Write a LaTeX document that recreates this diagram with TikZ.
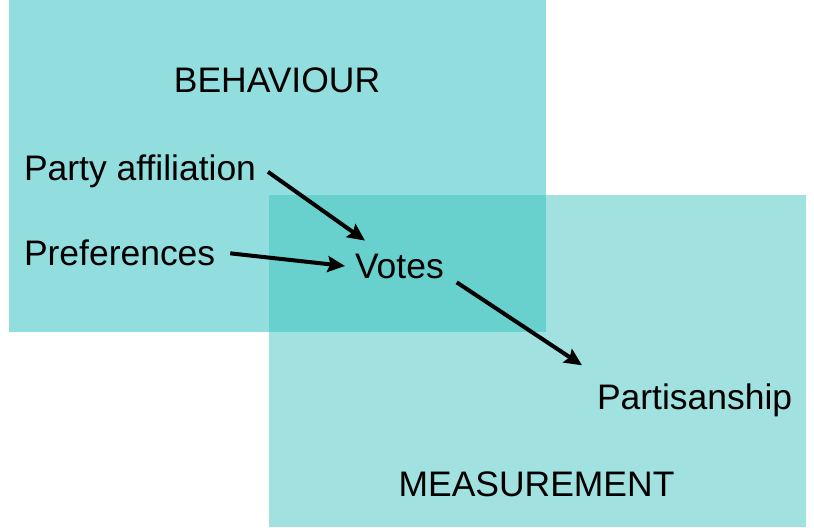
\documentclass[tikz,border=0pt]{standalone}
\usepackage{fontspec}
\setmainfont{Liberation Sans}
\usetikzlibrary{arrows.meta,calc}
\definecolor{behavfill}{HTML}{92DEDF}
\definecolor{measfill}{HTML}{A1E1E0}
\definecolor{bothfill}{HTML}{68D1CE}
\begin{document}
\begin{tikzpicture}[x=0.75pt,y=-0.75pt,
  area/.style={rectangle, anchor=north west, inner sep=0, outer sep=0, minimum width=402.75pt, minimum height=249pt},
  lbl/.style={inner sep=0, outer sep=0, font=\fontsize{26.6}{32}\selectfont},
  arr/.style={line width=3pt, -{Stealth[length=13pt,width=12pt,inset=2pt]}}]
\useasboundingbox (0,0) rectangle (814,528);
\node[area, fill=behavfill] (behav) at (9,0){};
\node[area, fill=measfill] (meas) at (269,195){};
\fill[bothfill] (meas.north west) rectangle (behav.south east);
\node[lbl, anchor=base] (behavtxt) at (277,93){BEHAVIOUR};
\node[lbl, anchor=base] (meastxt) at (536.5,496){MEASUREMENT};
\node[lbl, anchor=base west] (party) at (24,180){Party affiliation};
\node[lbl, anchor=base west] (pref) at (24,265){Preferences};
\node[lbl, anchor=base west] (votes) at (355,278){Votes};
\node[lbl, anchor=base west] (partis) at (597,409){Partisanship};
\draw[arr] ($(party.east)+(12,1)$) -- ($(votes.north west)+(10,-13)$);
\draw[arr] ($(pref.east)+(15,1)$) -- ($(votes.west)+(-10,0)$);
\draw[arr] ($(votes.south east)+(13,4)$) -- ($(partis.north west)+(-15,-18)$);
\end{tikzpicture}
\end{document}
